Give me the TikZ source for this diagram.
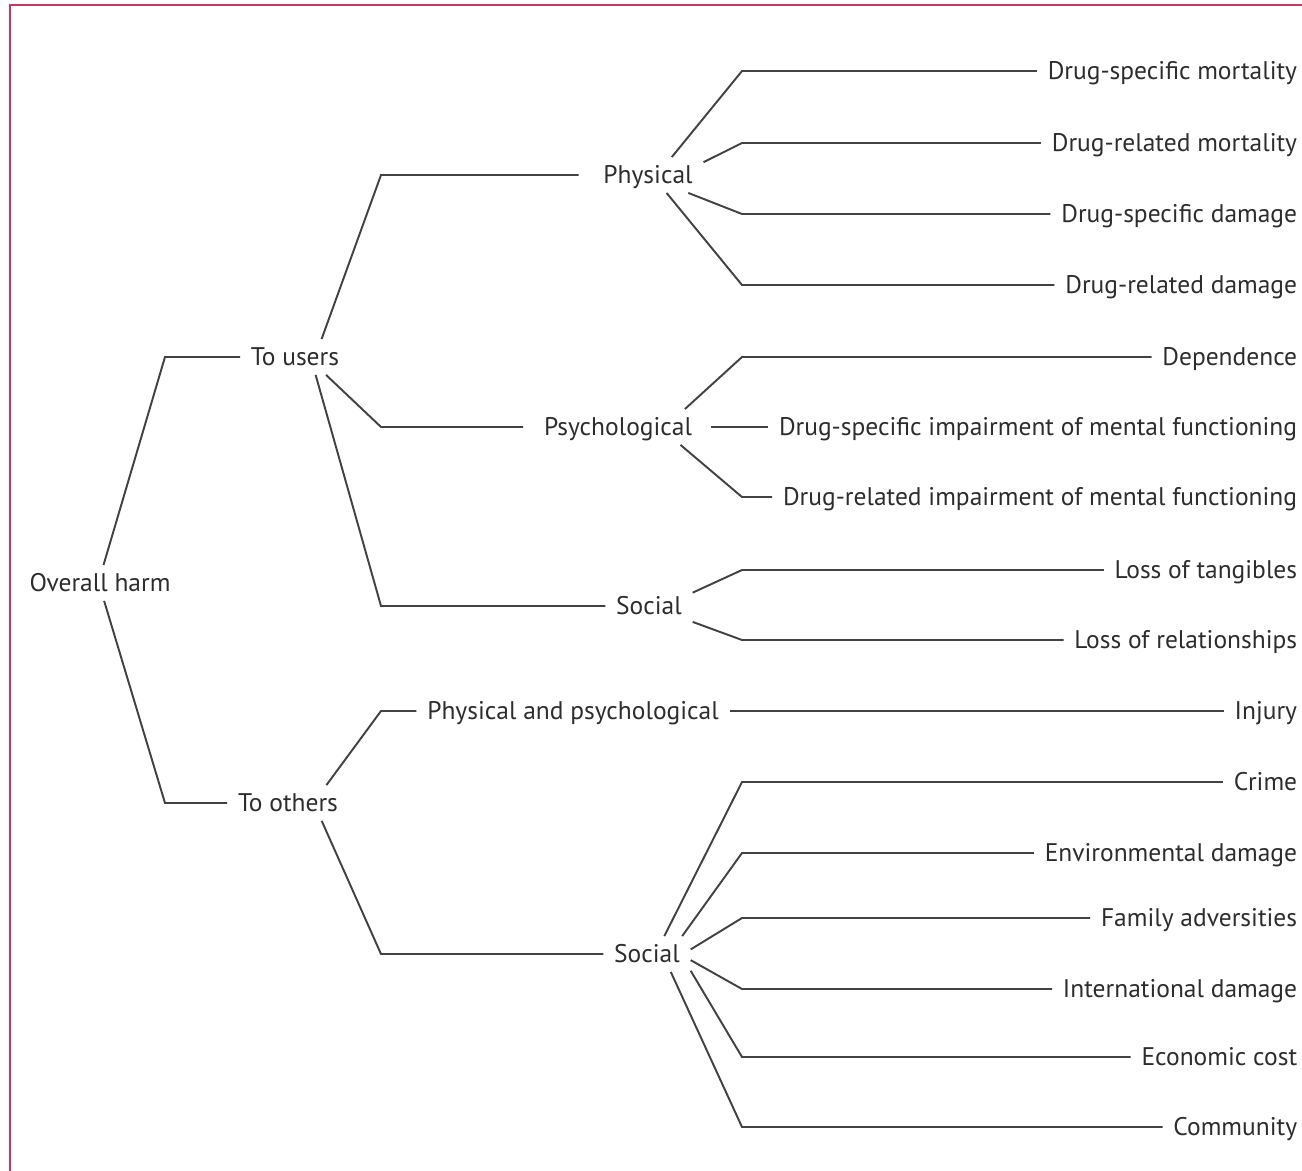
\documentclass[tikz,border=0pt]{standalone}
\usepackage{fontspec}
\setmainfont{PT Sans}
\usetikzlibrary{calc}

\definecolor{framered}{RGB}{200,55,100}
\definecolor{inkgray}{RGB}{45,45,45}

\tikzset{
  lbl/.style={inner xsep=6pt, inner ysep=5pt, text height=10pt, text depth=0pt,
    text=inkgray, font=\fontsize{14.5}{16}\selectfont},
  leaf/.style={lbl, anchor=east},
  twig/.style={draw=inkgray!90, line width=1.1pt},
}

\begin{document}
\begin{tikzpicture}[x=0.2mm,y=-0.2mm]
    \useasboundingbox (0,0) rectangle (1302,1171);

    % The frame
    \draw[framered, line width=1.2pt] (10,1171) -- (10,5) -- (1302,5);

    % Columns where the lines turn
    \coordinate (c1) at (165,0);
    \coordinate (c2) at (381,0);
    \coordinate (c3) at (742,0);

    % Place the nodes
    \node[lbl] (oh)  at (100,583) {Overall harm};
    \node[lbl] (tu)  at (295,357) {To users};
    \node[lbl] (to)  at (288,803) {To others};

    \node[lbl] (phy) at (648,175) {Physical};
    \node[lbl] (psy) at (618,427) {Psychological};
    \node[lbl] (scu) at (649,606) {Social};
    \node[lbl] (pp)  at (573,711) {Physical and psychological};
    \node[lbl] (sco) at (647,954) {Social};

    \node[leaf] (l1)  at (1308,71)   {Drug-specific mortality};
    \node[leaf] (l2)  at (1308,143)  {Drug-related mortality};
    \node[leaf] (l3)  at (1308,214)  {Drug-specific damage};
    \node[leaf] (l4)  at (1308,285)  {Drug-related damage};
    \node[leaf] (l5)  at (1308,357)  {Dependence};
    \node[leaf] (l6)  at (1308,427)  {Drug-specific impairment of mental functioning};
    \node[leaf] (l7)  at (1308,497)  {Drug-related impairment of mental functioning};
    \node[leaf] (l8)  at (1308,570)  {Loss of tangibles};
    \node[leaf] (l9)  at (1308,640)  {Loss of relationships};
    \node[leaf] (l10) at (1308,711)  {Injury};
    \node[leaf] (l11) at (1308,782)  {Crime};
    \node[leaf] (l12) at (1308,853)  {Environmental damage};
    \node[leaf] (l13) at (1308,918)  {Family adversities};
    \node[leaf] (l14) at (1308,989)  {International damage};
    \node[leaf] (l15) at (1308,1057) {Economic cost};
    \node[leaf] (l16) at (1308,1127) {Community};

    % Draw the lines
    \draw[twig] (oh.79)  -- (tu.west -| c1) -- (tu.west);
    \draw[twig] (oh.-77) -- (to.west -| c1) -- (to.west);

    \draw[twig, shorten >=2.8mm] (tu.34) -- (phy.west -| c2) -- (phy.west);
    \draw[twig, shorten >=2mm]   (tu.-30) -- (psy.west -| c2) -- (psy.west);
    \draw[twig] (tu.-41) -- (scu.west -| c2) -- (scu.west);
    \draw[twig] (to.25)  -- (pp.west -| c2) -- (pp.west);
    \draw[twig] (to.-28) -- (sco.west -| c2) -- (sco.west);

    \draw[twig] (phy.37)  -- (l1.west -| c3) -- (l1.west);
    \draw[twig] (phy.13)  -- (l2.west -| c3) -- (l2.west);
    \draw[twig] (phy.-24) -- (l3.west -| c3) -- (l3.west);
    \draw[twig] (phy.-44) -- (l4.west -| c3) -- (l4.west);

    \draw[twig] (psy.15)  -- (l5.west -| c3) -- (l5.west);
    \draw[twig, shorten <=1.6mm] (psy.east) -- (l6.west);
    \draw[twig] (psy.-16) -- (l7.west -| c3) -- (l7.west);

    \draw[twig] (scu.17)  -- (l8.west -| c3) -- (l8.west);
    \draw[twig] (scu.-20) -- (l9.west -| c3) -- (l9.west);

    \draw[twig] (pp.east) -- (l10.west);

    \draw[twig] (sco.46)  -- (l11.west -| c3) -- (l11.west);
    \draw[twig] (sco.27)  -- (l12.west -| c3) -- (l12.west);
    \draw[twig] (sco.6)   -- (l13.west -| c3) -- (l13.west);
    \draw[twig] (sco.-8)  -- (l14.west -| c3) -- (l14.west);
    \draw[twig] (sco.-21) -- (l15.west -| c3) -- (l15.west);
    \draw[twig] (sco.-37) -- (l16.west -| c3) -- (l16.west);

\end{tikzpicture}
\end{document}
